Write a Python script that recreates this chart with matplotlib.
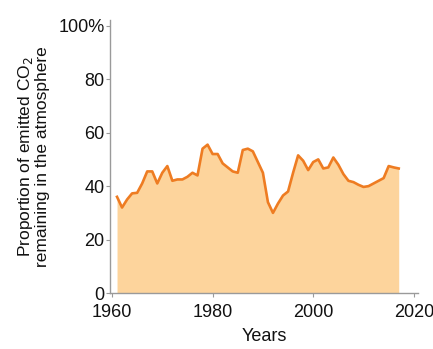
import matplotlib
matplotlib.use("Agg")
import matplotlib.pyplot as plt

# Airborne fraction of emitted CO2, percent, by year
years = list(range(1961, 2018))
airborne_pct = [
    36, 32, 35, 37.3, 37.5, 41, 45.5, 45.5, 41, 45,      # 1961-1970
    47.5, 42, 42.5, 42.5, 43.5, 45, 44, 54, 55.5, 52,    # 1971-1980
    52, 48.5, 47, 45.5, 45, 53.5, 54, 53, 49, 45,        # 1981-1990
    34, 30, 33.5, 36.5, 38, 45, 51.5, 49.5, 46, 49,      # 1991-2000
    50, 46.6, 47, 50.7, 48, 44.5, 42, 41.5, 40.5, 39.7,  # 2001-2010
    40, 41, 42, 43, 47.5, 47, 46.6,                      # 2011-2017
]

x_ticks = [1960, 1980, 2000, 2020]
y_ticks = [0, 20, 40, 60, 80, 100]
y_tick_labels = ["0", "20", "40", "60", "80", "100%"]

plt.rcParams["font.family"] = ["Liberation Sans", "DejaVu Sans"]

fig = plt.figure(figsize=(4.33, 3.49), dpi=100)
ax = fig.add_axes([0.254, 0.160, 0.711, 0.782])

line_color = "#EE7C22"
fill_color = "#FDD49C"

ax.fill_between(years, airborne_pct, 0, color=fill_color, linewidth=0)
ax.plot(years, airborne_pct, color=line_color, linewidth=1.9)

ax.set_xlim(1959.6, 2020.8)
ax.set_ylim(0, 102)
ax.set_xticks(x_ticks)
ax.set_yticks(y_ticks)
ax.set_yticklabels(y_tick_labels)

for side in ("top", "right"):
    ax.spines[side].set_visible(False)
for side in ("left", "bottom"):
    ax.spines[side].set_color("#9a9a9a")
    ax.spines[side].set_linewidth(1.0)

ax.tick_params(axis="both", colors="#9a9a9a", length=3, width=0.8,
               labelcolor="#111111", labelsize=13)
ax.tick_params(axis="y", pad=1)
ax.tick_params(axis="x", pad=5)

ax.set_xlabel("Years", fontsize=13, color="#111111", labelpad=5)
ax.set_ylabel("Proportion of emitted CO$_2$\nremaining in the atmosphere",
              fontsize=12.5, color="#111111", labelpad=6, linespacing=1.0)

fig.savefig("out.png", dpi=100)
